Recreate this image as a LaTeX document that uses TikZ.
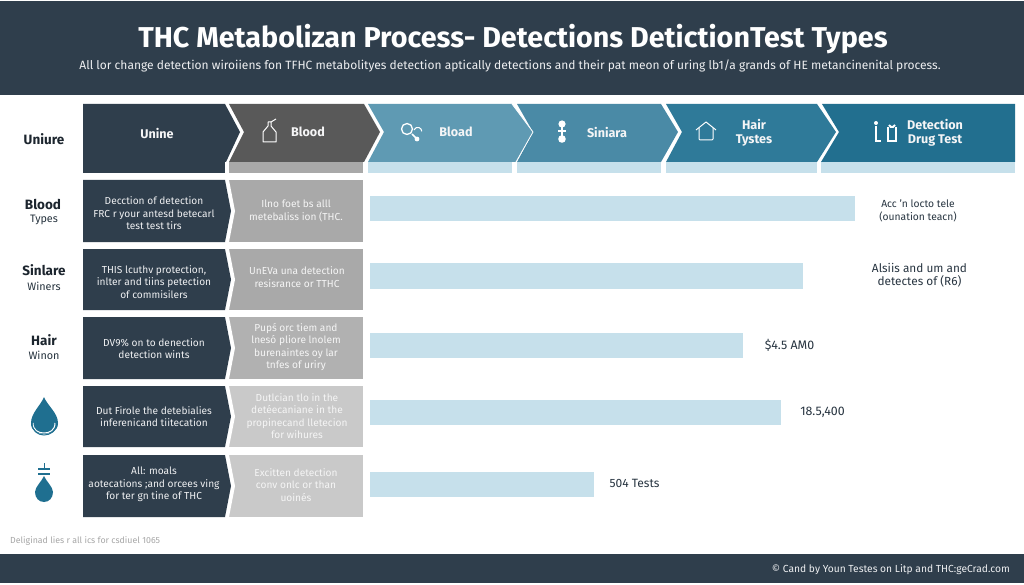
\documentclass[tikz,border=0pt]{standalone}
\usepackage{fontspec}
\setmainfont{Fira Sans}
\definecolor{navy}{HTML}{2F3E4C}
\definecolor{charc}{HTML}{595959}
\definecolor{teala}{HTML}{5F9AB3}
\definecolor{tealb}{HTML}{4A8AA6}
\definecolor{tealc}{HTML}{2F7A99}
\definecolor{teald}{HTML}{226F8F}
\definecolor{pale}{HTML}{C6E0EB}
\definecolor{graya}{HTML}{A9A9A9}
\definecolor{grayb}{HTML}{B1B1B1}
\definecolor{grayc}{HTML}{C9C9C9}
\definecolor{drop}{HTML}{1F6F90}
\tikzset{
  txt/.style={inner sep=0pt,align=center,font=\fontsize{10.15}{12.6}\selectfont},
  rowdark/.style={txt,text=white!92!navy},
  rowgray/.style={txt,text=white!88!graya},
  head/.style={inner sep=0pt,align=center,text=white!95!navy,font=\fontsize{12.6}{14}\selectfont\bfseries},
  side/.style={inner sep=0pt,align=center,text=navy!60!black,font=\fontsize{13.5}{15}\selectfont\bfseries},
  sub/.style={inner sep=0pt,align=center,text=navy!80!black,font=\fontsize{10.8}{13}\selectfont},
  val/.style={inner sep=0pt,align=center,text=navy!85!black,font=\fontsize{11}{12.8}\selectfont},
  valbig/.style={inner sep=0pt,align=center,text=navy!85!black,font=\fontsize{12.4}{14}\selectfont},
  ico/.style={draw=white,line width=1pt,fill=none,line join=round},
}
\begin{document}
\begin{tikzpicture}[x=1pt,y=-1pt]
\useasboundingbox (0,0) rectangle (1024,585);
\fill[white] (0,0) rectangle (1024,585);
% bands
\fill[navy] (0,1) rectangle (1024,95);
\fill[navy] (0,554) rectangle (1024,583);
\node[inner sep=0pt,text=white,font=\fontsize{28.7}{30}\selectfont\bfseries] (title) at (513,39) {THC Metabolizan Process- Detections DetictionTest Types};
\node[inner sep=0pt,text=white!92!navy,font=\fontsize{12}{13}\selectfont] (subtitle) at (510,65.5) {All lor change detection wiroiiens fon TFHC metabolityes detection aptically detections and their pat meon of uring lb1/a grands of HE metancinenital process.};
% chevrons: strips
\fill[navy] (83,162) rectangle (225,173);
\fill[graya] (229,162) rectangle (363,173);
\fill[pale] (368,162) rectangle (512,173);
\fill[pale] (517,162) rectangle (661,173);
\fill[pale] (666,162) rectangle (817,173);
\fill[pale] (821,162) rectangle (1015,173);
% chevrons
\fill[navy] (83,104) -- (225,104) -- (240,132) -- (226,162) -- (83,162) -- cycle;
\fill[charc] (229,104) -- (364,104) -- (380,132) -- (364,162) -- (229,162) -- (244,132) -- cycle;
\fill[teala] (368,104) -- (512,104) -- (533,132) -- (516,162) -- (368,162) -- (384,132) -- cycle;
\fill[tealb] (517,104) -- (661,104) -- (678,132) -- (661,162) -- (517,162) -- (533,132) -- cycle;
\fill[tealc] (666,104) -- (817,104) -- (836,132) -- (817,162) -- (666,162) -- (682,132) -- cycle;
\fill[teald] (822,104) -- (1015,104) -- (1015,162) -- (821,162) -- (839,132) -- cycle;
\draw[white,line width=.8pt] (512,104) -- (533,132) -- (516,162);
% chevron labels
\node[head] (h1) at (157,133) {Unine};
\node[head] (h2) at (308,132) {Blood};
\node[head] (h3) at (456,132) {Bload};
\node[head] (h4) at (607,132) {Siniara};
\node[head] (h5) at (754,133) {Hair\\Tystes};
\node[head] (h6) at (935,133) {Detection\\Drug Test};
% header icons
\draw[ico] (263,142) -- (263,132) -- (268,126) -- (268,122) -- (271,122) -- (271,126) -- (276,132) -- (276,142) -- cycle;
\draw[ico] (271,122) -- (276,119);
\draw[ico,line width=1.3pt] (407,129) circle (5.5);
\draw[ico,line width=1.5pt] (412,134) -- (417,139);
\draw[ico] (414,130) arc (200:360:4);
\fill[white] (417,139) circle (2.4);
\fill[white] (562,124) circle (3.6);
\fill[white] (562,139) circle (3.8);
\draw[white,line width=2.2pt] (558,131) -- (566,131);
\draw[white,line width=1.6pt] (562,124) -- (562,139);
\draw[ico] (696,130) -- (706,122) -- (716,130);
\draw[ico,rounded corners=1pt] (699,128) -- (699,140) -- (713,140) -- (713,128);
\draw[white,line width=1.6pt] (876,126) -- (876,141) -- (881,141);
\fill[white] (876,123) circle (2);
\draw[white,line width=2pt] (889,125) arc (160:20:3.2);
\draw[white,line width=2.4pt] (888,127) -- (888,141) -- (896,141) -- (896,127);
% row left labels
\node[side] (l0) at (44,139) {Uniure};
\node[side] (l1) at (43,204) {Blood};
\node[sub]  (l1b) at (44,220) {Types};
\node[side] (l2) at (44,270) {Sinlare};
\node[sub]  (l2b) at (44,286) {Winers};
\node[side] (l3) at (44,340) {Hair};
\node[sub]  (l3b) at (44,355) {Winon};
% rows: grey boxes first
\fill[graya] (229,180) rectangle (363,242);
\fill[graya] (229,249) rectangle (363,310);
\fill[grayb] (229,317) rectangle (363,379);
\fill[grayc] (229,386) rectangle (363,447);
\fill[grayc] (229,455) rectangle (363,517);
% white gap and dark boxes
\foreach \t/\b in {180/242,249/310,317/379,386/447,455/517}{
  \pgfmathsetmacro{\m}{(\t+\b)/2}
  \fill[white] (225,\t) -- (229,\t) -- (235,\m) -- (229,\b) -- (225,\b) -- cycle;
  \fill[navy] (83,\t) -- (225,\t) -- (231,\m) -- (225,\b) -- (83,\b) -- cycle;
}
% row text
\node[rowdark] (d1) at (154,213.5) {Decction of detection\\FRC r your antesd betecarl\\test test tirs};
\node[rowdark] (d2) at (154,282) {THIS lcuthv protection,\\inlter and tiins petection\\of commisilers};
\node[rowdark] (d3) at (154,348.5) {DV9\% on to denection\\detection wints};
\node[rowdark] (d4) at (154,416.5) {Dut Firole the detebialies\\inferenicand tiitecation};
\node[rowdark] (d5) at (154,484.5) {All: moals\\aotecations ;and orcees ving\\for ter gn tine of THC};
\node[rowgray] (g1) at (296,211) {Ilno foet bs alll\\metebaliss ion (THC.};
\node[rowgray] (g2) at (297,277) {UnEVa una detection\\resisrance or TTHC};
\node[rowgray] (g3) at (296,347) {Pupś orc tiem and\\lnesó pliore lnolem\\burenaintes oy lar\\tnfes of uriry};
\node[rowgray] (g4) at (297,416) {Dutlcian tlo in the\\detéecaniane in the\\propinecand lletecion\\for wihures};
\node[rowgray] (g5) at (296,485) {Excitten detection\\conv onlc or than\\uoinés};
% bars
\fill[pale] (370,196) rectangle (855,221);
\fill[pale] (370,263) rectangle (803,289);
\fill[pale] (370,333) rectangle (743,358);
\fill[pale] (370,400) rectangle (781,425);
\fill[pale] (370,472) rectangle (594,497);
% bar values
\node[val,font=\fontsize{10.3}{12.8}\selectfont] (v1) at (918,210.5) {Acc 'n locto tele\\(ounation teacn)};
\node[val,font=\fontsize{11.8}{13}\selectfont] (v2) at (919.5,275) {Alsiis and um and\\detectes of (R6)};
\node[valbig] (v3) at (789.5,345) {\$4.5 AM0};
\node[valbig] (v4) at (822.5,412) {18.5,400};
\node[valbig,font=\fontsize{12}{14}\selectfont] (v5) at (634.5,483) {504 Tests};
% drop icons
\fill[drop] (44,397) .. controls (47,405) and (58,413) .. (58,423) .. controls (58,431) and (51,434) .. (44,434) .. controls (37,434) and (31,431) .. (31,423) .. controls (31,413) and (41,405) .. (44,397) -- cycle;
\draw[white,line width=1pt] (33,423) .. controls (33,430) and (38,433) .. (44,433) .. controls (50,433) and (55,430) .. (55,423);
\draw[drop,line width=1pt] (32,423) .. controls (32,431) and (38,435) .. (44,435) .. controls (50,435) and (57,431) .. (57,423);
\fill[drop] (44,476) .. controls (46,481) and (53,487) .. (53,492) .. controls (53,498) and (49,502) .. (44,502) .. controls (39,502) and (35,498) .. (35,492) .. controls (35,487) and (42,481) .. (44,476) -- cycle;
\draw[drop,line width=1pt] (44,463) -- (44,468);
\draw[drop,line width=1.2pt] (38,469) -- (50,469) (38,474) -- (50,474);
% notes
\node[inner sep=0pt,anchor=west,text=black!35,font=\fontsize{8.8}{9}\selectfont] (note) at (10,541) {Deliginad lies r all ics for csdiuel 1065};
\node[inner sep=0pt,anchor=east,text=white!92!navy,font=\fontsize{10.25}{12}\selectfont] (foot) at (1010,570) {© Cand by Youn Testes on Litp and THC:geCrad.com};
\end{tikzpicture}
\end{document}
